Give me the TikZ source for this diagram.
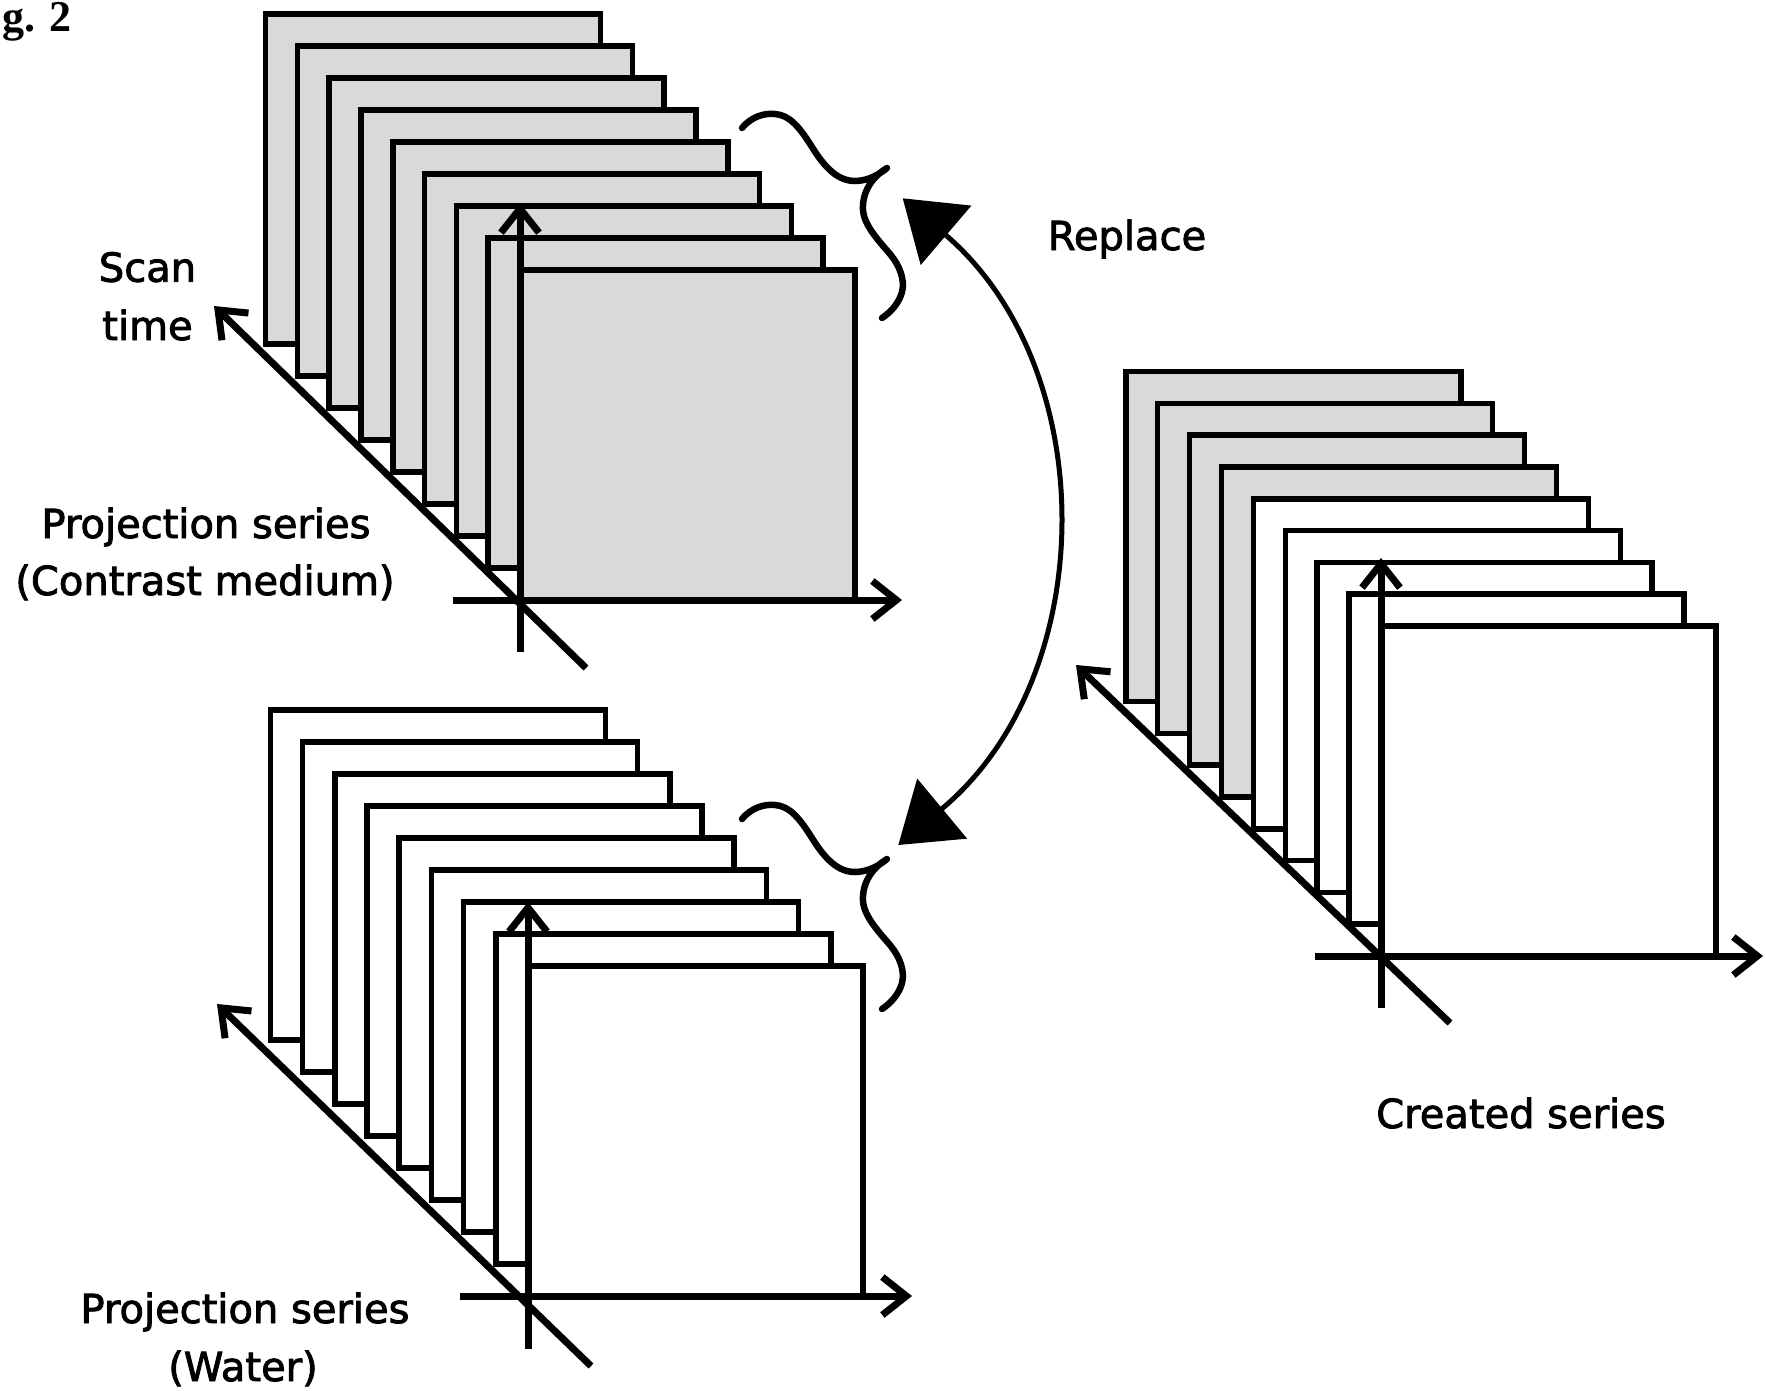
\documentclass[tikz,border=0pt]{standalone}
\usepackage{fontspec}
\setmainfont{DejaVu Sans}
\newfontfamily\lblfont{DejaVu Sans}[FakeBold=2.2]
\newfontfamily\figfont{Liberation Serif}
\usetikzlibrary{arrows.meta,calc}
\definecolor{framegray}{RGB}{217,217,217}
\newcommand\drawslabs[4]{% #1 prefix, #2 dx, #3 dy, #4 number of grey slabs from the back
  \foreach \i in {8,7,...,0}{
    \pgfmathtruncatemacro\g{((8-\i)<#4) ? 1 : 0}
    \ifnum\g=1 \def\fc{framegray}\else\def\fc{white}\fi
    \node[slab, fill=\fc] (#1\i) at ({-\i*#2},{-\i*#3}) {};
  }
}
\begin{document}
\begin{tikzpicture}[x=1pt,y=-1pt,
  slab/.style={draw=black, line width=5.5pt, rectangle, inner sep=0pt, outer sep=0pt,
    anchor=south west, minimum width=335pt, minimum height=330pt},
  axisline/.style={line width=7pt, -{Straight Barb[length=24pt,width=38pt]}},
  lbl/.style={font=\lblfont\fontsize{40}{48}\selectfont, inner sep=0pt, anchor=base},
  bracepath/.style={line width=6.5pt, line cap=round, line join=round},
  replacearrow/.style={line width=5pt,
    {Triangle[length=57pt,width=77pt]}-{Triangle[length=57pt,width=77pt]}},
  pics/curlybrace/.style={code={
    \draw[bracepath] (742,128) .. controls (752,116) and (765,113) .. (775,114)
      .. controls (790,115) and (800,128) .. (812,147)
      .. controls (825,168) and (838,181) .. (855,181)
      .. controls (868,181) and (880,174) .. (887,168)
      .. controls (872,177) and (862,192) .. (863,210)
      .. controls (864,225) and (878,240) .. (890,254)
      .. controls (900,266) and (905,280) .. (902,292)
      .. controls (899,303) and (891,312) .. (882,318);
  }}
]
\useasboundingbox[fill=white] (0,0) rectangle (1766,1390);

% ---------- contrast medium stack ----------
\begin{scope}[shift={(520,600)}]
  \drawslabs{c}{31.8}{32}{9}
  \coordinate (cxs) at (-67,0);  \coordinate (cxe) at (382,0);
  \coordinate (cys) at (0,52);   \coordinate (cye) at (0,-397);
  \coordinate (cds) at (66,68);  \coordinate (cde) at (-306,-294);
  \draw[axisline] (cxs) -- (cxe);
  \draw[axisline] (cys) -- (cye);
  \draw[axisline] (cds) -- (cde);
\end{scope}

% ---------- water stack ----------
\begin{scope}[shift={(528,1296)}]
  \drawslabs{w}{32.2}{32}{0}
  \coordinate (wxs) at (-68,0);  \coordinate (wxe) at (384,0);
  \coordinate (wys) at (0,53);   \coordinate (wye) at (0,-394);
  \coordinate (wds) at (63,70);  \coordinate (wde) at (-311,-292);
  \draw[axisline] (wxs) -- (wxe);
  \draw[axisline] (wys) -- (wye);
  \draw[axisline] (wds) -- (wde);
\end{scope}

% ---------- created stack ----------
\begin{scope}[shift={(1381,956)}]
  \drawslabs{r}{31.9}{31.8}{4}
  \coordinate (rxs) at (-66,0);  \coordinate (rxe) at (382,0);
  \coordinate (rys) at (0,52);   \coordinate (rye) at (0,-398);
  \coordinate (rds) at (69,67);  \coordinate (rde) at (-305,-291);
  \draw[axisline] (rxs) -- (rxe);
  \draw[axisline] (rys) -- (rye);
  \draw[axisline] (rds) -- (rde);
\end{scope}

% ---------- braces ----------
\pic (bracetop) at (0,0) {curlybrace};
\pic (bracebot) at (0,691) {curlybrace};

% ---------- replace arrow ----------
\coordinate (rtop) at (902.7,198.3);
\coordinate (rbot) at (898.3,845);
\draw[replacearrow] (rtop) .. controls (1102.6,369) and (1100.6,677) .. (rbot);

% ---------- labels ----------
\node[anchor=base west, inner sep=0pt, font=\figfont\bfseries\fontsize{44}{50}\selectfont] (fig) at (2,31.7) {g. 2};
\node[lbl] (scan) at (147.5,281.7) {Scan};
\node[lbl] (time) at (147.5,340) {time};
\node[lbl] (pc1) at (206,538) {Projection series};
\node[lbl] (pc2) at (205,595) {(Contrast medium)};
\node[lbl] (pw1) at (245,1323) {Projection series};
\node[lbl] (pw2) at (243,1381) {(Water)};
\node[lbl] (repl) at (1127,250) {Replace};
\node[lbl] (created) at (1521,1128) {Created series};
\end{tikzpicture}
\end{document}
